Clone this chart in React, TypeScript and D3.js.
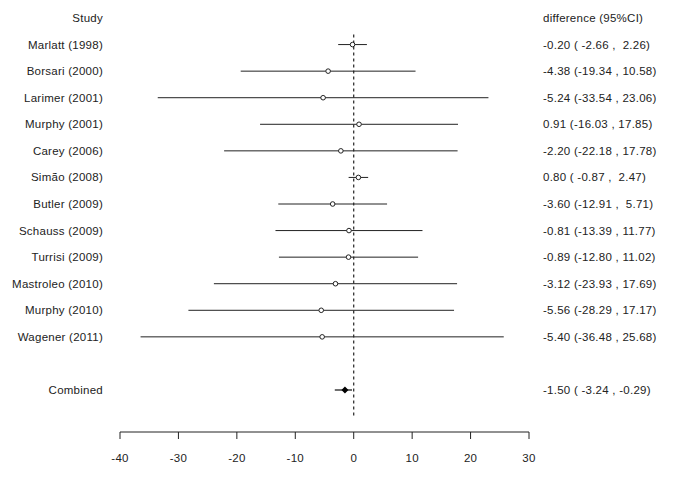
import * as d3 from 'd3';

const studies = [
  'Marlatt (1998)',
  'Borsari (2000)',
  'Larimer (2001)',
  'Murphy (2001)',
  'Carey (2006)',
  'Simão (2008)',
  'Butler (2009)',
  'Schauss (2009)',
  'Turrisi (2009)',
  'Mastroleo (2010)',
  'Murphy (2010)',
  'Wagener (2011)',
];
const estimates = [-0.2, -4.38, -5.24, 0.91, -2.2, 0.8, -3.6, -0.81, -0.89, -3.12, -5.56, -5.4];
const lower = [-2.66, -19.34, -33.54, -16.03, -22.18, -0.87, -12.91, -13.39, -12.8, -23.93, -28.29, -36.48];
const upper = [2.26, 10.58, 23.06, 17.85, 17.78, 2.47, 5.71, 11.77, 11.02, 17.69, 17.17, 25.68];

const combinedLabel = 'Combined';
const combinedEst = -1.5;
const combinedLo = -3.24;
const combinedHi = -0.29;

const xTicks = [-40, -30, -20, -10, 0, 10, 20, 30];

const W = 685;
const H = 492;
const ink = '#222';
const font = 'Arial, "Liberation Sans", sans-serif';

const fmtCI = (e: number, lo: number, hi: number) =>
  `${e.toFixed(2)} (${lo.toFixed(2).padStart(6, ' ')} , ${hi.toFixed(2).padStart(5, ' ')})`;

export default function App() {
  const x = d3.scaleLinear().domain([-40, 30]).range([120, 529]);
  // row 0 = header, 1..12 studies, 14 = combined
  const y = d3.scaleLinear().domain([0, 14]).range([18, 390]);
  const axisY = 432;

  return (
    <div style={{ position: 'absolute', left: 0, top: 0 }}>
      <svg width={W} height={H} style={{ display: 'block', background: '#fff' }} fontFamily={font} fontSize={11.5} letterSpacing={0.25} fill={ink}>
        <text x={103} y={y(0)} dy="0.35em" textAnchor="end">Study</text>
        <text x={543} y={y(0)} dy="0.35em">difference (95%CI)</text>

        <line x1={x(0)} x2={x(0)} y1={y(1) - 10} y2={418} stroke={ink} strokeWidth={1.2} strokeDasharray="3,3" />

        {studies.map((s, i) => {
          const yy = y(i + 1);
          return (
            <g key={s + i}>
              <text x={103} y={yy} dy="0.35em" textAnchor="end">{s}</text>
              <line x1={x(lower[i])} x2={x(upper[i])} y1={yy} y2={yy} stroke={ink} strokeWidth={1} />
              <circle cx={x(estimates[i])} cy={yy} r={2.3} fill="#fff" stroke={ink} strokeWidth={1} />
              <text x={543} y={yy} dy="0.35em" style={{ whiteSpace: 'pre' }}>{fmtCI(estimates[i], lower[i], upper[i])}</text>
            </g>
          );
        })}

        <g>
          <text x={103} y={y(14)} dy="0.35em" textAnchor="end">{combinedLabel}</text>
          <line x1={x(combinedLo)} x2={x(combinedHi)} y1={y(14)} y2={y(14)} stroke={ink} strokeWidth={1.3} />
          <path
            d={`M${x(combinedEst) - 3.5},${y(14)} L${x(combinedEst)},${y(14) - 3.5} L${x(combinedEst) + 3.5},${y(14)} L${x(combinedEst)},${y(14) + 3.5} Z`}
            fill="#000"
          />
          <text x={543} y={y(14)} dy="0.35em" style={{ whiteSpace: 'pre' }}>{fmtCI(combinedEst, combinedLo, combinedHi)}</text>
        </g>

        <g>
          <line x1={x(-40)} x2={x(30)} y1={axisY} y2={axisY} stroke={ink} strokeWidth={1} />
          {xTicks.map(t => (
            <g key={t}>
              <line x1={x(t)} x2={x(t)} y1={axisY} y2={axisY + 7} stroke={ink} strokeWidth={1} />
              <text x={x(t)} y={458} dy="0.35em" textAnchor="middle">{t}</text>
            </g>
          ))}
        </g>
      </svg>
    </div>
  );
}
